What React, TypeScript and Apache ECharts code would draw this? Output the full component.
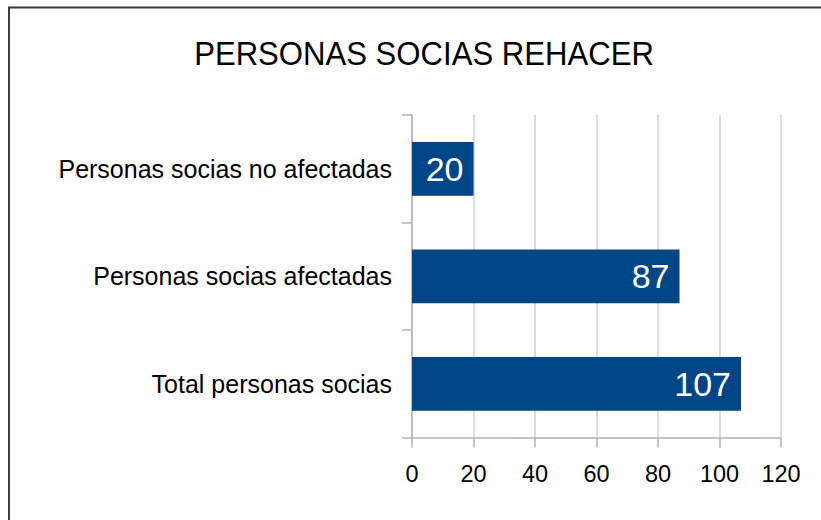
import React, { useEffect, useRef } from "react";
import * as echarts from "echarts";

const titleText = "PERSONAS SOCIAS REHACER";
const categories = [
  "Personas socias no afectadas",
  "Personas socias afectadas",
  "Total personas socias",
];
const values = [20, 87, 107];
const xMin = 0;
const xMax = 120;
const xInterval = 20;

export default function App() {
  const ref = useRef<HTMLDivElement>(null);
  useEffect(() => {
    if (!ref.current) return;
    const chart = echarts.init(ref.current, null, { renderer: "svg" });
    const font = "'Liberation Sans', Arial, sans-serif";
    const gridColor = "#b3b3b3";
    chart.setOption({
      animation: false,
      backgroundColor: "#ffffff",
      graphic: [
        {
          type: "line",
          shape: { x1: 9, y1: 7.5, x2: 821, y2: 7.5 },
          style: { stroke: "#3a3a3a", lineWidth: 2 },
          silent: true,
        },
        {
          type: "line",
          shape: { x1: 9, y1: 6.5, x2: 9, y2: 520 },
          style: { stroke: "#3a3a3a", lineWidth: 2 },
          silent: true,
        },
        {
          type: "text",
          x: 424,
          y: 37,
          scaleX: 0.915,
          originX: 0,
          style: {
            text: titleText,
            fontFamily: font,
            fontSize: 34,
            fill: "#000000",
            textAlign: "center",
            textVerticalAlign: "top",
          },
          silent: true,
        },
      ],
      grid: { left: 412, top: 115, width: 369, height: 322.5 },
      xAxis: {
        type: "value",
        min: xMin,
        max: xMax,
        interval: xInterval,
        axisLine: { show: true, lineStyle: { color: gridColor, width: 1.5 } },
        axisTick: { show: true, length: 10, lineStyle: { color: gridColor, width: 1.5 } },
        splitLine: { show: true, lineStyle: { color: "#d0d0d0", width: 1.5 } },
        axisLabel: {
          fontFamily: font,
          fontSize: 23.5,
          color: "#000000",
          margin: 24,
        },
      },
      yAxis: {
        type: "category",
        data: categories,
        inverse: true,
        axisLine: { show: true, lineStyle: { color: gridColor, width: 1.5 } },
        axisTick: { show: true, length: 10, alignWithLabel: false, lineStyle: { color: gridColor, width: 1.5 } },
        splitLine: { show: false },
        axisLabel: {
          fontFamily: font,
          fontSize: 25,
          color: "#000000",
          margin: 20,
        },
      },
      series: [
        {
          type: "bar",
          data: values,
          barWidth: "50%",
          itemStyle: { color: "#004586" },
          label: {
            show: true,
            position: "insideRight",
            distance: 10,
            fontFamily: font,
            fontSize: 34,
            color: "#ffffff",
          },
        },
      ],
    });
    return () => chart.dispose();
  }, []);
  return (
    <div
      ref={ref}
      style={{ position: "fixed", left: 0, top: 0, width: 821, height: 520, overflow: "hidden" }}
    />
  );
}
